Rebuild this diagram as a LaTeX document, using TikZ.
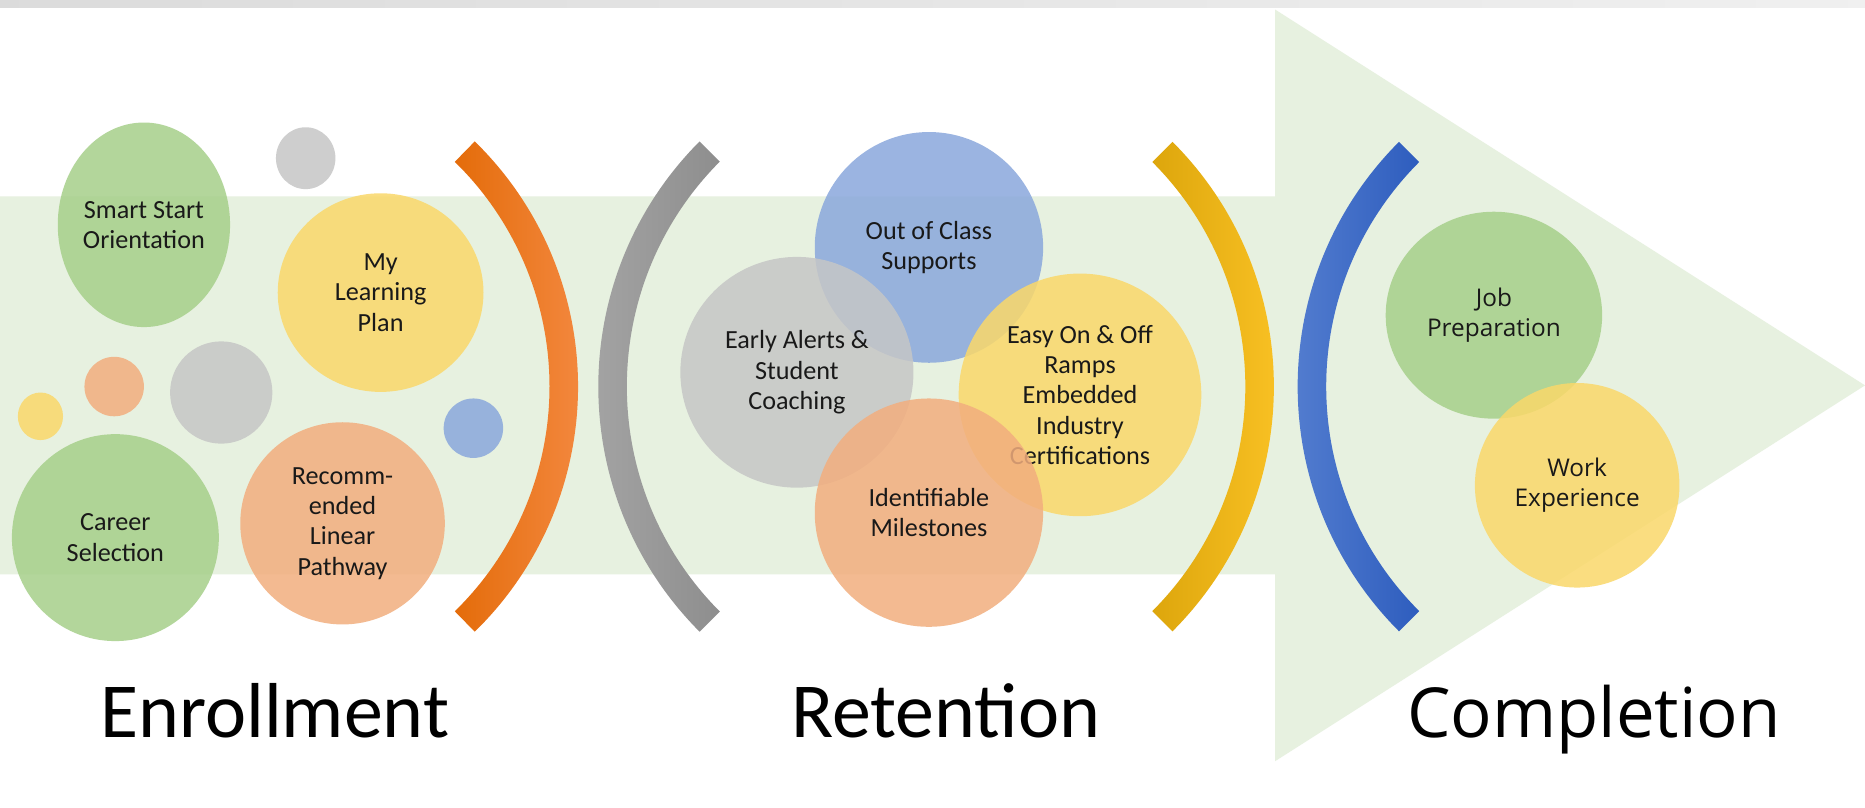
\documentclass[tikz,border=0pt]{standalone}
\usepackage{fontspec}
\setmainfont{Carlito}
\newfontfamily\segoe{Open Sans}
\usetikzlibrary{positioning,shapes.geometric}

\definecolor{shaftgreen}{HTML}{E7F1E0}
\definecolor{bgreen}{HTML}{A6CF8A}
\definecolor{byellow}{HTML}{FAD86A}
\definecolor{borange}{HTML}{F2AE7E}
\definecolor{bgray}{HTML}{C6C6C6}
\definecolor{bblue}{HTML}{8AA8DC}
\definecolor{arcorange}{HTML}{F58B45}
\definecolor{arcorangedk}{HTML}{E46C0A}
\definecolor{arcgray}{HTML}{A8A8A8}
\definecolor{arcgraydk}{HTML}{8E8E8E}
\definecolor{arcyellow}{HTML}{FFC729}
\definecolor{arcyellowdk}{HTML}{DDA60C}
\definecolor{arcblue}{HTML}{5B84D3}
\definecolor{arcbluedk}{HTML}{2E5DBE}

\begin{document}
\begin{tikzpicture}[
    x=1pt, y=-1pt,
    bubble/.style={ellipse, inner sep=0pt, align=center, fill opacity=0.85, text opacity=1,
        text=black!90, font=\fontsize{22}{25.5}\selectfont},
    segbubble/.style={bubble, font=\segoe\fontsize{20.5}{25}\selectfont},
    dot/.style={ellipse, inner sep=0pt, fill opacity=0.85},
    title/.style={anchor=base, font=\fontsize{65.5}{70}\selectfont}]
\useasboundingbox (0,0) rectangle (1568,679);
\fill[white] (0,0) rectangle (1568,679);
\shade[left color=black!14, right color=black!6] (0,0) rectangle (1568,6);

% big arrow
\fill[shaftgreen] (0,165) -- (1072,165) -- (1072,8) -- (1568,324) -- (1072,640)
    -- (1072,483) -- (0,483) -- cycle;

% brackets
\coordinate (oc) at (198,325);
\coordinate (gc) at (795,325);
\coordinate (yc) at (780,325);
\coordinate (bc) at (1382,325);
\shade[left color=arcorangedk, right color=arcorange]
    ([shift={(-45.7:288)}]oc) arc[start angle=-45.7, end angle=45.7, radius=288]
    -- ([shift={(45.7:264)}]oc) arc[start angle=45.7, end angle=-45.7, radius=264] -- cycle;
\shade[left color=arcgray, right color=arcgraydk]
    ([shift={(135.1:292)}]gc) arc[start angle=135.1, end angle=224.9, radius=292]
    -- ([shift={(224.9:268)}]gc) arc[start angle=224.9, end angle=135.1, radius=268] -- cycle;
\shade[left color=arcyellowdk, right color=arcyellow]
    ([shift={(-45:291)}]yc) arc[start angle=-45, end angle=45, radius=291]
    -- ([shift={(45:267)}]yc) arc[start angle=45, end angle=-45, radius=267] -- cycle;
\shade[left color=arcblue, right color=arcbluedk]
    ([shift={(135:291)}]bc) arc[start angle=135, end angle=225, radius=291]
    -- ([shift={(225:267)}]bc) arc[start angle=225, end angle=135, radius=267] -- cycle;

% enrollment
\node[bubble, fill=bgreen, minimum width=144pt, minimum height=172pt] (smartstart) at (121,189) {Smart Start\\Orientation};
\node[dot, fill=bgray, minimum width=50pt, minimum height=52pt] (topdot) at (257,133) {};
\node[bubble, fill=byellow, minimum width=173pt, minimum height=167pt] (learnplan) at (320,246) {My\\Learning\\Plan};
\node[dot, fill=byellow, minimum width=38pt, minimum height=40pt] (yellowdot) at (34,350) {};
\node[dot, fill=borange, minimum width=50pt, minimum height=50pt] (orangedot) at (96,325) {};
\node[dot, fill=bgray, minimum width=86pt, minimum height=86pt] (graydot) at (186,330) {};
\node[dot, fill=bblue, minimum width=50pt, minimum height=50pt] (bluedot) at (398,360) {};
\node[bubble, fill=bgreen, minimum width=174pt, minimum height=174pt] (career) at (97,452) {Career\\Selection};
\node[bubble, fill=borange, minimum width=172pt, minimum height=170pt] (pathway) at (288,440) {Recomm-\\ended\\Linear\\Pathway};

% retention
\node[bubble, fill=bblue, minimum width=192pt, minimum height=194pt] (outclass) at (781,208) {Out of Class\\Supports};
\node[bubble, fill=bgray, minimum width=196pt, minimum height=194pt] (earlyalert) at (670,313) {Early Alerts \&\\Student\\Coaching};
\node[bubble, fill=byellow, minimum width=204pt, minimum height=204pt] (easyramp) at (908,332) {Easy On \& Off\\Ramps\\Embedded\\Industry\\Certifications};
\node[bubble, fill=borange, minimum width=192pt, minimum height=192pt] (milestone) at (781,431) {Identifiable\\Milestones};

% completion
\node[segbubble, fill=bgreen, minimum width=182pt, minimum height=174pt] (jobprep) at (1256,265) {Job\\Preparation};
\node[segbubble, fill=byellow, minimum width=172pt, minimum height=172pt] (workexp) at (1326,408) {Work\\Experience};

\node[title] (enroll) at (231,620) {Enrollment};
\node[title] (retain) at (795,620) {Retention};
\node[title, font=\segoe\fontsize{58}{64}\selectfont] (complete) at (1340,620) {Completion};
\end{tikzpicture}
\end{document}
